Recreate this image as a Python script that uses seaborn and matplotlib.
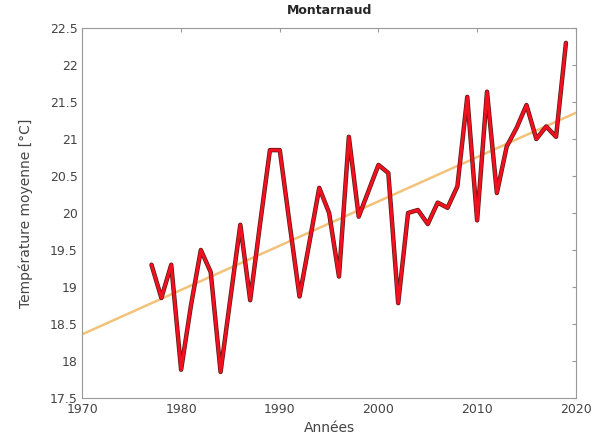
import numpy as np
import pandas as pd
import seaborn as sns
import matplotlib.pyplot as plt

# annual mean temperatures
years = list(range(1977, 2020))
temps = [19.3, 18.85, 19.3, 17.88, 18.75, 19.5, 19.2, 17.85, 18.85, 19.84,
         18.82, 19.85, 20.85, 20.85, 19.85, 18.87, 19.6, 20.34, 20.0, 19.14,
         21.03, 19.95, 20.3, 20.65, 20.54, 18.78, 20.0, 20.04, 19.85, 20.14,
         20.07, 20.36, 21.57, 19.9, 21.64, 20.27, 20.9, 21.15, 21.46, 21.0,
         21.17, 21.03, 22.3]

df = pd.DataFrame({"annee": years, "temp": temps})

# linear trend over 1970-2020
coef = np.polyfit(df["annee"], df["temp"], 1)
trend_years = [1970, 2020]
trend = pd.DataFrame({"annee": trend_years, "temp": np.polyval(coef, trend_years)})

sns.set_style("white")
plt.rcParams["font.family"] = ["DejaVu Sans"]

fig = plt.figure(figsize=(5.93, 4.46), dpi=100)
ax = fig.add_axes([0.139, 0.108, 0.832, 0.829])

sns.lineplot(data=trend, x="annee", y="temp", color="#f2c27a", lw=1.8, ax=ax)
sns.lineplot(data=df, x="annee", y="temp", color="#5a1818", lw=3.2, ax=ax)
sns.lineplot(data=df, x="annee", y="temp", color="#f0101e", lw=2.2, ax=ax)

ax.set_xlim(1970, 2020)
ax.set_ylim(17.5, 22.5)
ax.set_xticks(range(1970, 2021, 10))
yt = np.arange(17.5, 22.51, 0.5)
ax.set_yticks(yt)
ax.set_yticklabels([f"{v:g}" for v in yt])
ax.tick_params(direction="in", length=3, labelsize=9, colors="#444444",
               top=True, right=True)
ax.tick_params(color="#999999")
for s in ax.spines.values():
    s.set_color("#999999")
    s.set_linewidth(0.8)

ax.set_title("Montarnaud", fontsize=9, fontweight="bold", pad=10)
ax.set_xlabel("Années", fontsize=10, color="#444444", labelpad=4)
ax.set_ylabel("Température moyenne [°C]", fontsize=10, color="#444444", labelpad=12)

fig.savefig("out.png", dpi=100)
